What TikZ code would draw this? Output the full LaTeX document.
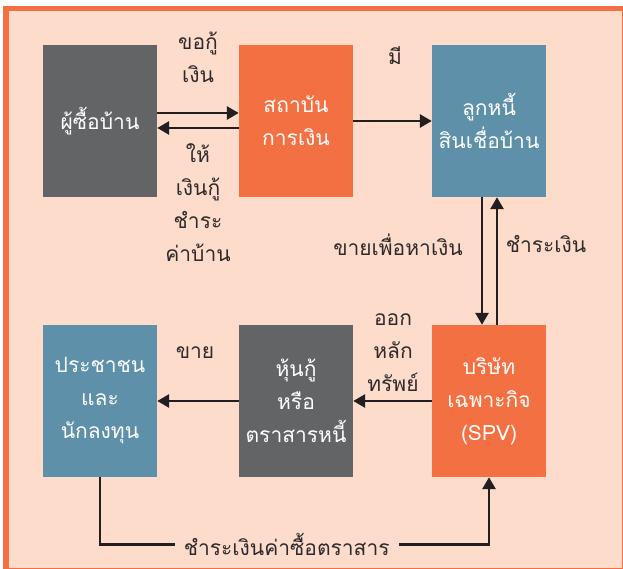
\documentclass[tikz,border=0pt]{standalone}
\usepackage{fontspec}
\newfontfamily\thaifont[Script=Thai]{Loma}
\usetikzlibrary{arrows.meta}
\definecolor{peach}{HTML}{FDDCCB}
\definecolor{frameor}{HTML}{F37043}
\definecolor{boxgray}{HTML}{636466}
\definecolor{boxor}{HTML}{F37043}
\definecolor{boxblue}{HTML}{5E91A9}
\definecolor{ink}{HTML}{231F20}
\definecolor{lbltext}{HTML}{2E2A2B}
\begin{document}
\begin{tikzpicture}[x=1pt,y=-1pt,
  every node/.style={font=\thaifont\fontsize{21}{33}\selectfont},
  box/.style={minimum width=114pt, minimum height=152pt, inner sep=0pt, align=center, text=white},
  arr/.style={line width=2.8pt, draw=ink, -{Triangle[length=12pt,width=13pt]}},
  lbl/.style={text=lbltext, align=center, inner sep=0pt}]
\useasboundingbox (0,0) rectangle (623,569);
\fill[frameor] (3,6) rectangle (623,569);
\fill[peach] (9,11) rectangle (621.5,567.5);

\node[box, fill=boxgray] (b1) at (100,121) {ผู้ซื้อบ้าน};
\node[box, fill=boxor] (b2) at (296,121) {สถาบัน\\การเงิน};
\node[box, fill=boxblue] (b3) at (489,121) {ลูกหนี้\\สินเชื่อบ้าน};
\node[box, fill=boxblue] (b4) at (100,401) {ประชาชน\\และ\\นักลงทุน};
\node[box, fill=boxgray] (b5) at (296,401) {หุ้นกู้\\หรือ\\ตราสารหนี้};
\node[box, fill=boxor] (b6) at (489,401) {บริษัท\\เฉพาะกิจ\\(SPV)};

\draw[arr] ([yshift=8pt]b1.east) -- ([yshift=8pt]b2.west);
\draw[arr] ([yshift=-7pt]b2.west) -- ([yshift=-7pt]b1.east);
\draw[arr] (b2.east) -- (b3.west);
\draw[arr] ([xshift=-7pt]b3.south) -- ([xshift=-7pt]b6.north);
\draw[arr] ([xshift=8pt]b6.north) -- ([xshift=8pt]b3.south);
\draw[arr] (b6.west) -- (b5.east);
\draw[arr] (b5.west) -- (b4.east);
\draw[arr] (b4.south) -- ++(0,67) coordinate (bl) -| node[pos=0.24, fill=peach, lbl, inner xsep=9pt, inner ysep=2pt] (lpay) {ชำระเงินค่าซื้อตราสาร} (b6.south);

\node[lbl] (l1) at (198,57) {ขอกู้\\เงิน};
\node[lbl] (l2) at (198,203) {ให้\\เงินกู้\\ชำระ\\ค่าบ้าน};
\node[lbl] (l3) at (395,56) {มี};
\node[lbl] (l4) at (398,245) {ขายเพื่อหาเงิน};
\node[lbl] (l5) at (546,244) {ชำระเงิน};
\node[lbl] (l6) at (393,353) {ออก\\หลัก\\ทรัพย์};
\node[lbl] (l7) at (195,353) {ขาย};
\end{tikzpicture}
\end{document}
